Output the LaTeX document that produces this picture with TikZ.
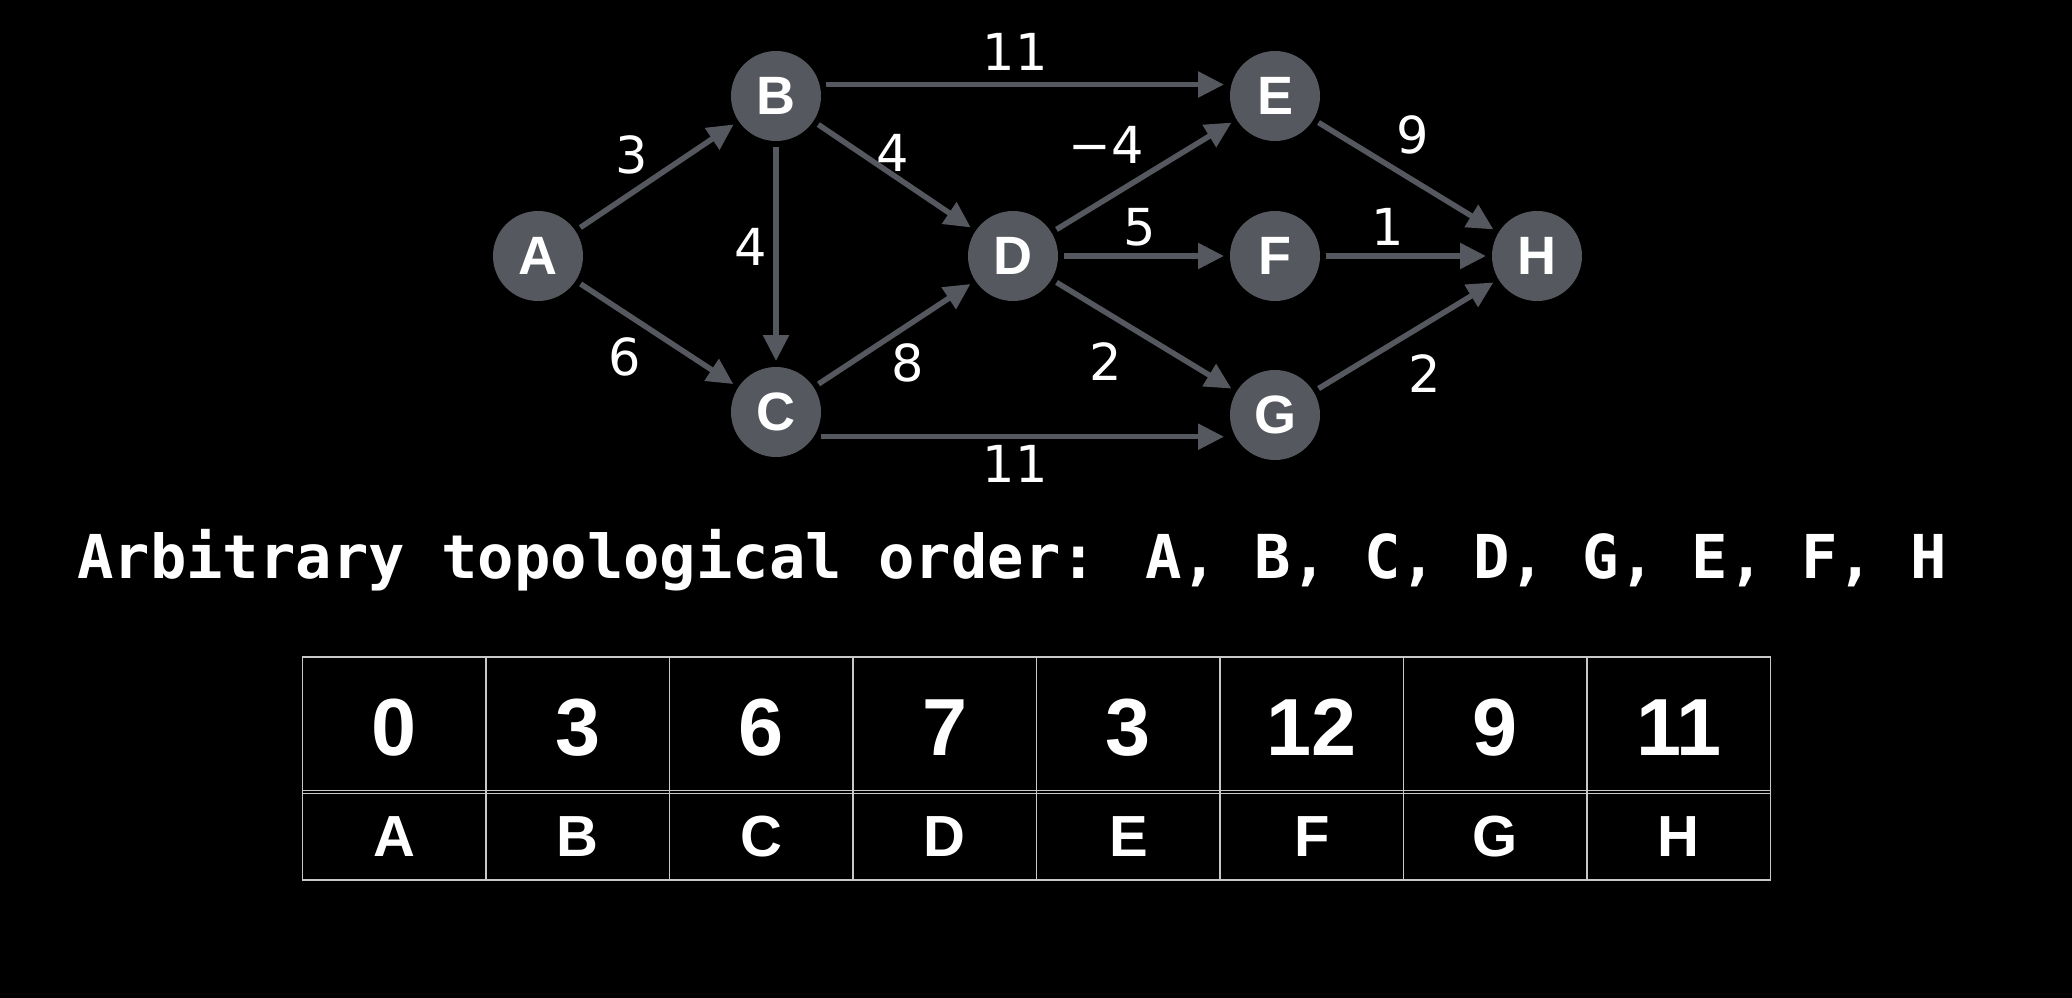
\documentclass[tikz,border=0pt]{standalone}
\usepackage{fontspec}
\setmainfont{Liberation Sans}
\newfontfamily\wfont{DejaVu Sans}
\newfontfamily\mfont{DejaVu Sans Mono}
\usetikzlibrary{arrows.meta,calc}
\definecolor{nodegray}{RGB}{85,88,94}
\definecolor{edgegray}{RGB}{85,88,94}
\definecolor{gridgray}{RGB}{200,200,200}
\begin{document}
\begin{tikzpicture}[x=1pt,y=-1pt,
  vertex/.style={circle,fill=nodegray,minimum size=90pt,inner sep=0pt,outer sep=6pt,
    text=white,font=\fontsize{54}{60}\selectfont\bfseries},
  edge/.style={draw=edgegray,line width=5.5pt,-{Triangle[length=26pt,width=25pt]}},
  wlabel/.style={text=white,font=\wfont\fontsize{51}{60}\selectfont,inner sep=0pt,anchor=center},
  title/.style={text=white,font=\mfont\bfseries\fontsize{60.5}{70}\selectfont,inner sep=0pt,anchor=base west},
  grid/.style={draw=gridgray,line width=1.6pt},
  val/.style={text=white,font=\fontsize{81}{90}\selectfont\bfseries,inner sep=0pt,anchor=center},
  key/.style={text=white,font=\fontsize{58}{64}\selectfont\bfseries,inner sep=0pt,anchor=center}]
\fill[black] (0,0) rectangle (2072,998);
\useasboundingbox (0,0) rectangle (2072,998);

% vertices
\node[vertex] (A) at (538,256) {A};
\node[vertex] (B) at (776,96) {B};
\node[vertex] (C) at (776,412) {C};
\node[vertex] (D) at (1013,256) {D};
\node[vertex] (E) at (1275,96) {E};
\node[vertex] (F) at (1275,256) {F};
\node[vertex] (G) at (1275,415) {G};
\node[vertex] (H) at (1537,256) {H};

% edges
\draw[edge] (A) -- (B);
\draw[edge] (A) -- (C);
\draw[edge] (B) -- (C);
\draw[edge] (B) -- (D);
\draw[edge] (B.13) -- (B.13 -| E.west);
\draw[edge] (C) -- (D);
\draw[edge] (C.-29) -- (C.-29 -| G.west);
\draw[edge] (D) -- (E);
\draw[edge] (D) -- (F);
\draw[edge] (D) -- (G);
\draw[edge] (E) -- (H);
\draw[edge] (F) -- (H);
\draw[edge] (G) -- (H);

% weights
\node[wlabel] (wBE) at (1015,52) {11};
\node[wlabel] (wAB) at (632,155) {3};
\node[wlabel] (wBD) at (893,153) {4};
\node[wlabel] (wBC) at (751,247) {4};
\node[wlabel] (wAC) at (625,357) {6};
\node[wlabel] (wCD) at (908,363) {8};
\node[wlabel] (wCG) at (1015,464) {11};
\node[wlabel] (wDE) at (1106,145) {−4};
\node[wlabel] (wDF) at (1140,227) {5};
\node[wlabel] (wDG) at (1106,362) {2};
\node[wlabel] (wEH) at (1413,135) {9};
\node[wlabel] (wFH) at (1388,227) {1};
\node[wlabel] (wGH) at (1425,374) {2};

% order line
\node[title] (order) at (77,578) {Arbitrary topological order: A, B, C, D, G, E, F, H};

% table
\draw[grid] (302.6,656.7) rectangle (1770.6,880);
\foreach \i in {1,...,7} {
  \draw[grid] ({302.6+183.5*\i},656.7) -- ({302.6+183.5*\i},880);
}
\draw[grid] (302.6,790.3) -- (1770.6,790.3);
\draw[grid] (302.6,793.6) -- (1770.6,793.6);

\foreach \v/\k [count=\i from 0] in {0/A,3/B,6/C,7/D,3/E,12/F,9/G,11/H} {
  \node[val] (t\i) at ({394.4+183.5*\i},727.5) {\v};
  \node[key] (l\i) at ({394.4+183.5*\i},837) {\k};
}
\end{tikzpicture}
\end{document}
